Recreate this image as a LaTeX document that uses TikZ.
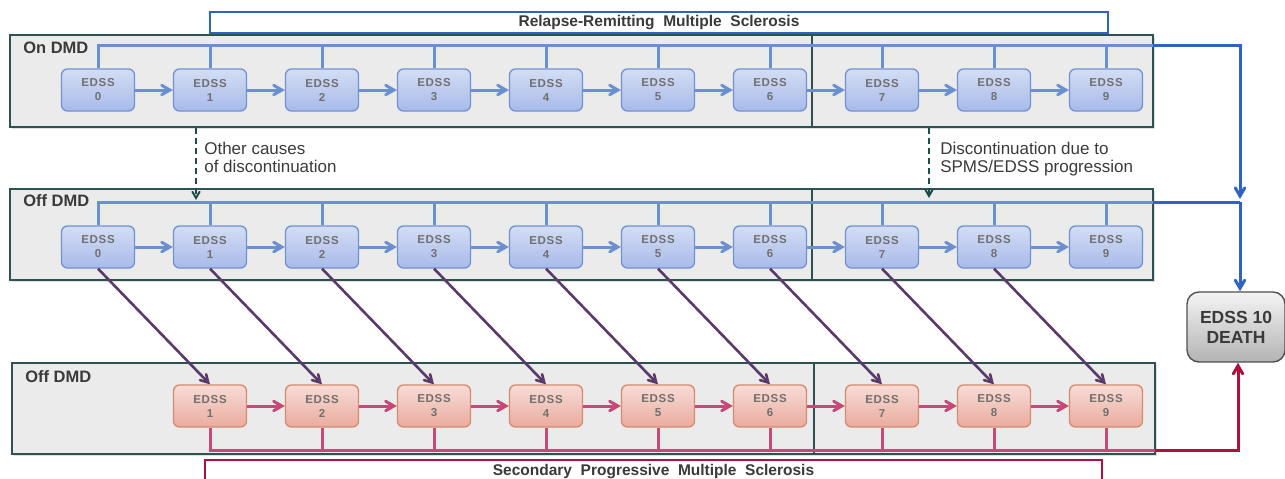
\documentclass[tikz,border=0pt]{standalone}
\usepackage{fontspec}
\setmainfont{Liberation Sans}
\usepackage{tikz}
\usetikzlibrary{arrows, positioning, shadows}

\definecolor{ontop}{HTML}{D3DDF4}
\definecolor{onbottom}{HTML}{A9BAEA}
\definecolor{onborder}{HTML}{6F92D4}
\definecolor{sptop}{HTML}{F7DCD6}
\definecolor{spbottom}{HTML}{EAAB9E}
\definecolor{spborder}{HTML}{D98A6E}
\definecolor{edsstext}{HTML}{707070}
\definecolor{panelgray}{HTML}{EBEBEB}
\definecolor{panelline}{HTML}{2E5252}
\definecolor{onarrow}{HTML}{6A90D2}
\definecolor{onstrong}{HTML}{2E63C3}
\definecolor{sparrow}{HTML}{C24B79}
\definecolor{spstrong}{HTML}{B0103E}
\definecolor{diagline}{HTML}{5A3A6C}
\definecolor{dashline}{HTML}{1F4B49}
\definecolor{deathtop}{HTML}{F4F4F4}
\definecolor{deathbottom}{HTML}{B3B3B3}
\definecolor{deathline}{HTML}{505050}
\definecolor{labeltext}{HTML}{3A3A3A}

\begin{document}
\begin{tikzpicture}[x=1pt,y=-1pt,>=angle 60,node distance=112pt,semithick]
\tikzset{font=\fontsize{17pt}{18pt}\selectfont}
\tikzset{
  edss/.style={rectangle,rounded corners=6pt,line width=1.3pt,minimum width=73pt,minimum height=42pt,
               inner sep=0pt,align=center,text=edsstext,
               font=\fontsize{11.5pt}{14pt}\selectfont\bfseries\addfontfeature{LetterSpace=6}},
  onnode/.style={edss,draw=onborder,top color=ontop,bottom color=onbottom},
  spnode/.style={edss,draw=spborder,top color=sptop,bottom color=spbottom},
  panel/.style={fill=panelgray,draw=panelline,line width=1.4pt,
                drop shadow={opacity=0.25,shadow xshift=1.5pt,shadow yshift=-1.5pt}},
  divider/.style={draw=panelline,line width=1.3pt},
  banner/.style={rectangle,fill=white,line width=2.8pt,minimum height=21pt,inner sep=0pt,
                 text=labeltext,font=\fontsize{15.5pt}{17pt}\selectfont\bfseries},
  paneltitle/.style={anchor=west,inner sep=0pt,text=labeltext,font=\fontsize{16.5pt}{18pt}\selectfont\bfseries},
  note/.style={anchor=west,inner sep=0pt,align=left,text=labeltext},
  onbus/.style={draw=onarrow,line width=3pt},
  spbus/.style={draw=sparrow,line width=3pt}
}

\useasboundingbox (0,0) rectangle (1285,479);

% panels
\draw[panel] (10,35) rectangle (1153,127);
\draw[panel] (10,189) rectangle (1153,280);
\draw[panel] (12,363) rectangle (1155,454);
\draw[divider] (812,35) -- (812,127);
\draw[divider] (812,189) -- (812,280);
\draw[divider] (814,363) -- (814,454);

\node[paneltitle] (ontitle) at (23,48) {On DMD};
\node[paneltitle] (offtitle) at (23,201) {Off DMD};
\node[paneltitle] (sptitle) at (25,377) {Off DMD};

\node[banner,draw=onstrong,minimum width=898pt] (rrms) at (659,22.5) {Relapse-Remitting\ \ Multiple\ \ Sclerosis};
\node[banner,draw=spstrong,minimum width=897pt,minimum height=24pt] (spms) at (653.5,472) {Secondary\ \ Progressive\ \ Multiple\ \ Sclerosis};

% on DMD
\node[onnode] (a0) at (98,90) {EDSS\\0};
\node[onnode] (a1) [right of=a0] {EDSS\\1};
\node[onnode] (a2) [right of=a1] {EDSS\\2};
\node[onnode] (a3) [right of=a2] {EDSS\\3};
\node[onnode] (a4) [right of=a3] {EDSS\\4};
\node[onnode] (a5) [right of=a4] {EDSS\\5};
\node[onnode] (a6) [right of=a5] {EDSS\\6};
\node[onnode] (a7) [right of=a6] {EDSS\\7};
\node[onnode] (a8) [right of=a7] {EDSS\\8};
\node[onnode] (a9) [right of=a8] {EDSS\\9};

% off DMD
\node[onnode] (b0) at (98,247) {EDSS\\0};
\node[onnode] (b1) [right of=b0] {EDSS\\1};
\node[onnode] (b2) [right of=b1] {EDSS\\2};
\node[onnode] (b3) [right of=b2] {EDSS\\3};
\node[onnode] (b4) [right of=b3] {EDSS\\4};
\node[onnode] (b5) [right of=b4] {EDSS\\5};
\node[onnode] (b6) [right of=b5] {EDSS\\6};
\node[onnode] (b7) [right of=b6] {EDSS\\7};
\node[onnode] (b8) [right of=b7] {EDSS\\8};
\node[onnode] (b9) [right of=b8] {EDSS\\9};

% SPMS, off DMD
\node[spnode] (c1) at (210,406) {EDSS\\1};
\node[spnode] (c2) [right of=c1] {EDSS\\2};
\node[spnode] (c3) [right of=c2] {EDSS\\3};
\node[spnode] (c4) [right of=c3] {EDSS\\4};
\node[spnode] (c5) [right of=c4] {EDSS\\5};
\node[spnode] (c6) [right of=c5] {EDSS\\6};
\node[spnode] (c7) [right of=c6] {EDSS\\7};
\node[spnode] (c8) [right of=c7] {EDSS\\8};
\node[spnode] (c9) [right of=c8] {EDSS\\9};

\node[rectangle,rounded corners=12pt,draw=deathline,line width=1.4pt,top color=deathtop,bottom color=deathbottom,
      minimum width=98pt,minimum height=70pt,align=center,text=labeltext,
      font=\fontsize{17.5pt}{20pt}\selectfont\bfseries] (death) at (1236,327) {EDSS 10\\DEATH};

\coordinate (topend) at (1153,45);
\coordinate (topturn) at (1240,45);
\coordinate (midhit) at (1240,199);
\coordinate (midend) at (1153,202);
\coordinate (midjoin) at (1240,202);
\coordinate (botend) at (1155,450);
\coordinate (botturn) at (1238,450);

% buses
\draw[onbus] (a0.north) |- (topend)
  (a1.north) -- (a1.north |- topend)
  (a2.north) -- (a2.north |- topend)
  (a3.north) -- (a3.north |- topend)
  (a4.north) -- (a4.north |- topend)
  (a5.north) -- (a5.north |- topend)
  (a6.north) -- (a6.north |- topend)
  (a7.north) -- (a7.north |- topend)
  (a8.north) -- (a8.north |- topend)
  (a9.north) -- (a9.north |- topend);
\draw[onbus] (b0.north) |- (midend)
  (b1.north) -- (b1.north |- midend)
  (b2.north) -- (b2.north |- midend)
  (b3.north) -- (b3.north |- midend)
  (b4.north) -- (b4.north |- midend)
  (b5.north) -- (b5.north |- midend)
  (b6.north) -- (b6.north |- midend)
  (b7.north) -- (b7.north |- midend)
  (b8.north) -- (b8.north |- midend)
  (b9.north) -- (b9.north |- midend);
\draw[spbus] (c1.south) |- (botend)
  (c2.south) -- (c2.south |- botend)
  (c3.south) -- (c3.south |- botend)
  (c4.south) -- (c4.south |- botend)
  (c5.south) -- (c5.south |- botend)
  (c6.south) -- (c6.south |- botend)
  (c7.south) -- (c7.south |- botend)
  (c8.south) -- (c8.south |- botend)
  (c9.south) -- (c9.south |- botend);

\draw[->,draw=onstrong,line width=3pt] (topend) -- (topturn) -- (midhit);
\draw[draw=onstrong,line width=3pt] (midend) -- (midjoin);
\draw[->,draw=onstrong,line width=3pt] (midjoin) -- (midjoin |- death.north);
\draw[->,draw=spstrong,line width=3pt] (botend) -- (botturn) -- (botturn |- death.south);

% transitions
\path[->,line width=3pt,every edge/.append style={draw=onarrow}]
  (a0) edge (a1) (a1) edge (a2) (a2) edge (a3) (a3) edge (a4) (a4) edge (a5)
  (a5) edge (a6) (a6) edge (a7) (a7) edge (a8) (a8) edge (a9);
\path[->,line width=3pt,every edge/.append style={draw=onarrow}]
  (b0) edge (b1) (b1) edge (b2) (b2) edge (b3) (b3) edge (b4) (b4) edge (b5)
  (b5) edge (b6) (b6) edge (b7) (b7) edge (b8) (b8) edge (b9);
\path[->,line width=3pt,every edge/.append style={draw=sparrow}]
  (c1) edge (c2) (c2) edge (c3) (c3) edge (c4) (c4) edge (c5)
  (c5) edge (c6) (c6) edge (c7) (c7) edge (c8) (c8) edge (c9);
\path[->,line width=2.6pt,every edge/.append style={draw=diagline}]
  (b0.south) edge (c1.north) (b1.south) edge (c2.north) (b2.south) edge (c3.north)
  (b3.south) edge (c4.north) (b4.south) edge (c5.north) (b5.south) edge (c6.north)
  (b6.south) edge (c7.north) (b7.south) edge (c8.north) (b8.south) edge (c9.north);

% discontinuation
\coordinate (other0) at (196,128);
\coordinate (other1) at (196,200);
\coordinate (spms0) at (929,128);
\coordinate (spms1) at (929,198);
\draw[->,dash pattern=on 6pt off 4pt,draw=dashline,line width=2pt] (other0) -- (other1);
\draw[->,dash pattern=on 6pt off 4pt,draw=dashline,line width=2pt] (spms0) -- (spms1);
\node[note] (othertxt) at (204,157.5) {Other causes\\of discontinuation};
\node[note] (spmstxt) at (940,159.5) {Discontinuation due to\\SPMS/EDSS progression};

\end{tikzpicture}
\end{document}
